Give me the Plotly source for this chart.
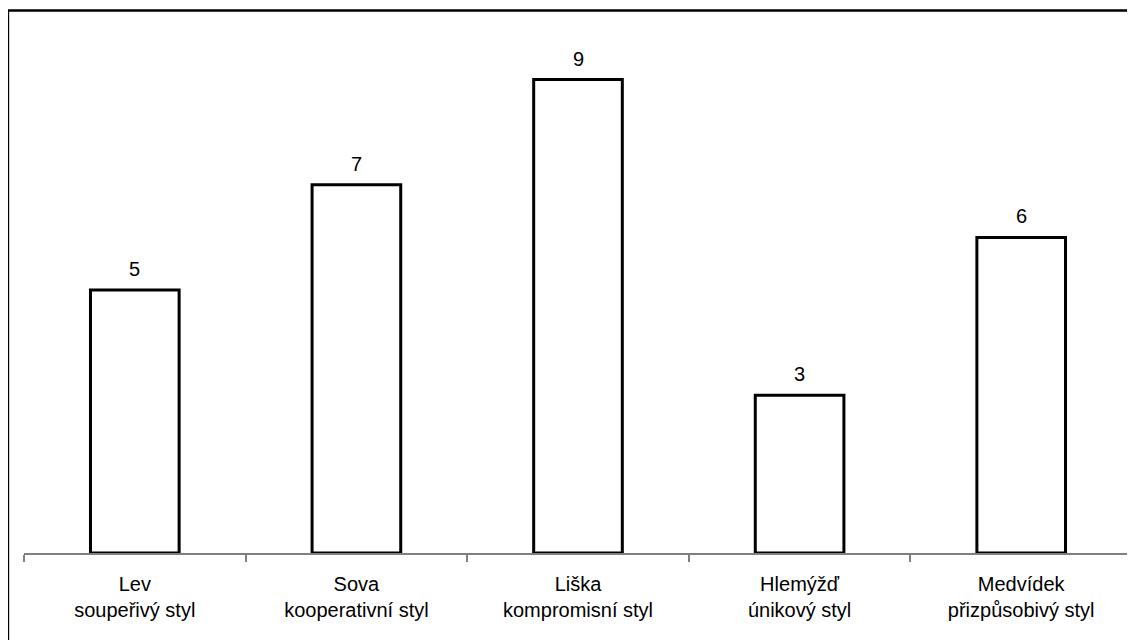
import plotly.graph_objects as go

categories = ["Lev<br>soupeřivý styl", "Sova<br>kooperativní styl", "Liška<br>kompromisní styl",
              "Hlemýžď<br>únikový styl", "Medvídek<br>přizpůsobivý styl"]
values = [5, 7, 9, 3, 6]

FONT = "Liberation Sans, Arial, sans-serif"

fig = go.Figure()
fig.add_trace(go.Bar(
    x=categories, y=values,
    marker=dict(color="white", line=dict(color="black", width=3)),
    width=0.4, hoverinfo="skip",
))

for c, v in zip(categories, values):
    fig.add_annotation(x=c, y=v, text=str(v), showarrow=False, yanchor="bottom",
                       yshift=8, font=dict(family=FONT, size=20, color="black"))

fig.add_shape(type="rect", xref="paper", yref="paper",
              x0=-0.0145, x1=1.2, y0=-0.5, y1=1.0314,
              line=dict(color="black", width=2.5), fillcolor="rgba(0,0,0,0)", layer="below")

fig.update_layout(
    width=1127, height=632,
    margin=dict(l=16, r=3, t=19, b=87),
    paper_bgcolor="white", plot_bgcolor="white",
    showlegend=False,
    font=dict(family=FONT, size=20, color="black"),
    xaxis=dict(range=[-0.5, 4.5], showline=True, linecolor="#808080", linewidth=1.5,
               ticks="outside", tickson="boundaries", ticklen=7, tickcolor="#808080", tickwidth=1.5,
               ticklabelstandoff=12,
               showgrid=False, zeroline=False, layer="below traces", fixedrange=True),
    yaxis=dict(range=[0, 10], visible=False, showgrid=False, zeroline=False, fixedrange=True),
)

fig.write_html("out.html")
